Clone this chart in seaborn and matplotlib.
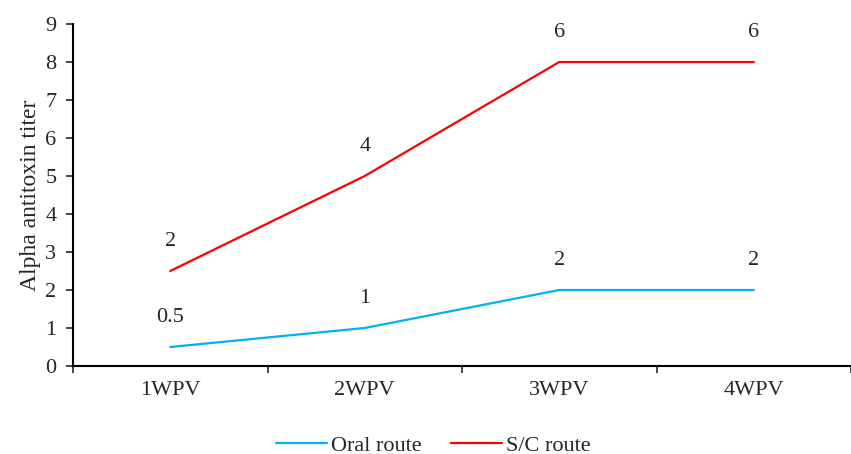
import numpy as np
import pandas as pd
import matplotlib.pyplot as plt
import seaborn as sns

weeks = ["1WPV", "2WPV", "3WPV", "4WPV"]
oral = [0.5, 1, 2, 2]
sc = [2.5, 5, 8, 8]
oral_labels = ["0.5", "1", "2", "2"]
sc_labels = ["2", "4", "6", "6"]

sns.set_style("white")
plt.rcParams['font.family'] = ['Liberation Serif', 'DejaVu Serif']

df = pd.DataFrame({
    "x": list(range(4)) * 2,
    "titer": oral + sc,
    "route": ["Oral route"] * 4 + ["S/C route"] * 4,
})

fig = plt.figure(figsize=(8.51, 4.54), dpi=100)
ax = fig.add_axes([73 / 851, (454 - 366) / 454, 1 - 73 / 851, 342 / 454])
sns.lineplot(data=df, x="x", y="titer", hue="route",
             palette={"Oral route": "#00B0F0", "S/C route": "#FF0000"},
             linewidth=1.6, ax=ax, legend=True)

for i in range(4):
    ax.annotate(oral_labels[i], (i, oral[i]), xytext=(0, 21), textcoords="offset points",
                ha="center", va="center", fontsize=16)
    ax.annotate(sc_labels[i], (i, sc[i]), xytext=(0, 21), textcoords="offset points",
                ha="center", va="center", fontsize=16)

ax.set_xlim(-0.5, 3.46)
ax.set_ylim(0, 9)
ax.set_yticks(range(10))
ax.set_xticks(range(4))
ax.set_xticklabels(weeks)
ax.set_xticks([-0.5, 0.5, 1.5, 2.5, 3.5], minor=True)
ax.tick_params(axis="x", which="major", length=0, pad=11, labelsize=16)
ax.tick_params(axis="x", which="minor", length=5, width=1.2, direction="out", bottom=True)
ax.tick_params(axis="y", length=5, width=1.2, direction="out", left=True, labelsize=16, pad=7)
ax.set_xlabel("")
ax.set_ylabel("Alpha antitoxin titer", fontsize=17, labelpad=3)
for s in ["top", "right"]:
    ax.spines[s].set_visible(False)
for s in ["left", "bottom"]:
    ax.spines[s].set_color("black")
    ax.spines[s].set_linewidth(1.5)

ax.legend(loc="center", bbox_to_anchor=(0.463, -0.232), ncol=2, frameon=False,
          fontsize=16, handlelength=2.3, handletextpad=0.2, columnspacing=1.3)

fig.savefig("out.png", dpi=100)
